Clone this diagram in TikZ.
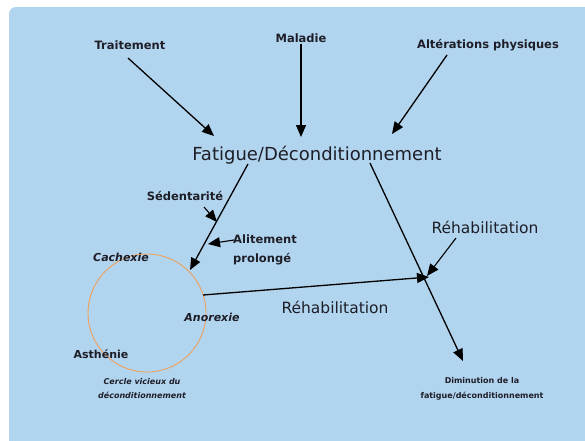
\documentclass[tikz,border=0pt]{standalone}
\usepackage{fontspec}
\setmainfont{DejaVu Sans}
\usetikzlibrary{arrows.meta}
\definecolor{bgblue}{RGB}{178,213,239}
\definecolor{ringor}{RGB}{238,160,90}
\definecolor{ink}{RGB}{30,30,40}
\begin{document}
\begin{tikzpicture}[x=1pt,y=-1pt,
  lab/.style={font=\fontsize{11.5}{13}\selectfont\bfseries, inner sep=1pt, text=ink},
  ilab/.style={font=\fontsize{11}{13}\selectfont\bfseries\itshape, inner sep=1pt, text=ink},
  tiny/.style={align=center, inner sep=1pt, text=ink},
  big/.style={font=\fontsize{15.5}{18}\selectfont, inner sep=1pt, text=ink},
  arr/.style={line width=1.3pt, -{Triangle[length=12pt,width=10pt]}},
  sarr/.style={line width=1.1pt, -{Triangle[length=12pt,width=10pt]}}]
\useasboundingbox (0,0) rectangle (585,440);
\fill[white] (0,0) rectangle (585,440);
\fill[bgblue, rounded corners=7pt] (9,7) -- (600,7) -- (600,460) -- (9,460) -- cycle;
% top labels
\node[lab] (trait) at (130,45) {Traitement};
\node[lab] (mal) at (301,38) {Maladie};
\node[lab] (alt) at (488,45) {Altérations physiques};
\node[font=\fontsize{18}{20}\selectfont, inner sep=1pt, text=ink] (fat) at (317,155) {Fatigue/Déconditionnement};
\coordinate (t1) at (128,58); \coordinate (t2) at (214,136);
\coordinate (m1) at (301,44); \coordinate (m2) at (301,137);
\coordinate (a1) at (447,55); \coordinate (a2) at (392,134);
\draw[arr] (t1) -- (t2);
\draw[arr] (m1) -- (m2);
\draw[arr] (a1) -- (a2);
% left branch
\coordinate (l1) at (248,164); \coordinate (l2) at (190,270);
\draw[arr] (l1) -- (l2);
\node[lab] (sed) at (185,196) {Sédentarité};
\coordinate (s1) at (204,207); \coordinate (s2) at (217,222);
\draw[sarr] (s1) -- (s2);
\node[lab, align=left, font=\fontsize{11.5}{19}\selectfont\bfseries] (alit) at (265,250) {Alitement\\prolongé};
\coordinate (al1) at (234,240); \coordinate (al2) at (208,244);
\draw[sarr] (al1) -- (al2);
% circle
\draw[ringor, line width=0.9pt] (147,313) circle (59);
\node[ilab] (cach) at (121,257) {Cachexie};
\node[ilab] (anor) at (212,317) {Anorexie};
\node[lab, font=\fontsize{11}{13}\selectfont\bfseries] (asth) at (101,354) {Asthénie};
\node[tiny, font=\fontsize{8}{14}\selectfont\bfseries\itshape] (cerc) at (142,389) {Cercle vicieux du\\déconditionnement};
% horizontal
\coordinate (h1) at (203,295); \coordinate (h2) at (429,277);
\draw[arr] (h1) -- (h2);
\node[big] (reh1) at (335,307) {Réhabilitation};
% right branch
\coordinate (r1) at (370,163); \coordinate (r2) at (463,361);
\draw[arr] (r1) -- (r2);
\node[big] (reh2) at (485,227) {Réhabilitation};
\coordinate (q1) at (456,238); \coordinate (q2) at (427,276);
\draw[sarr] (q1) -- (q2);
\node[tiny, font=\fontsize{8}{15}\selectfont\bfseries] (dim) at (482,389) {Diminution de la\\fatigue/déconditionnement};
\end{tikzpicture}
\end{document}
